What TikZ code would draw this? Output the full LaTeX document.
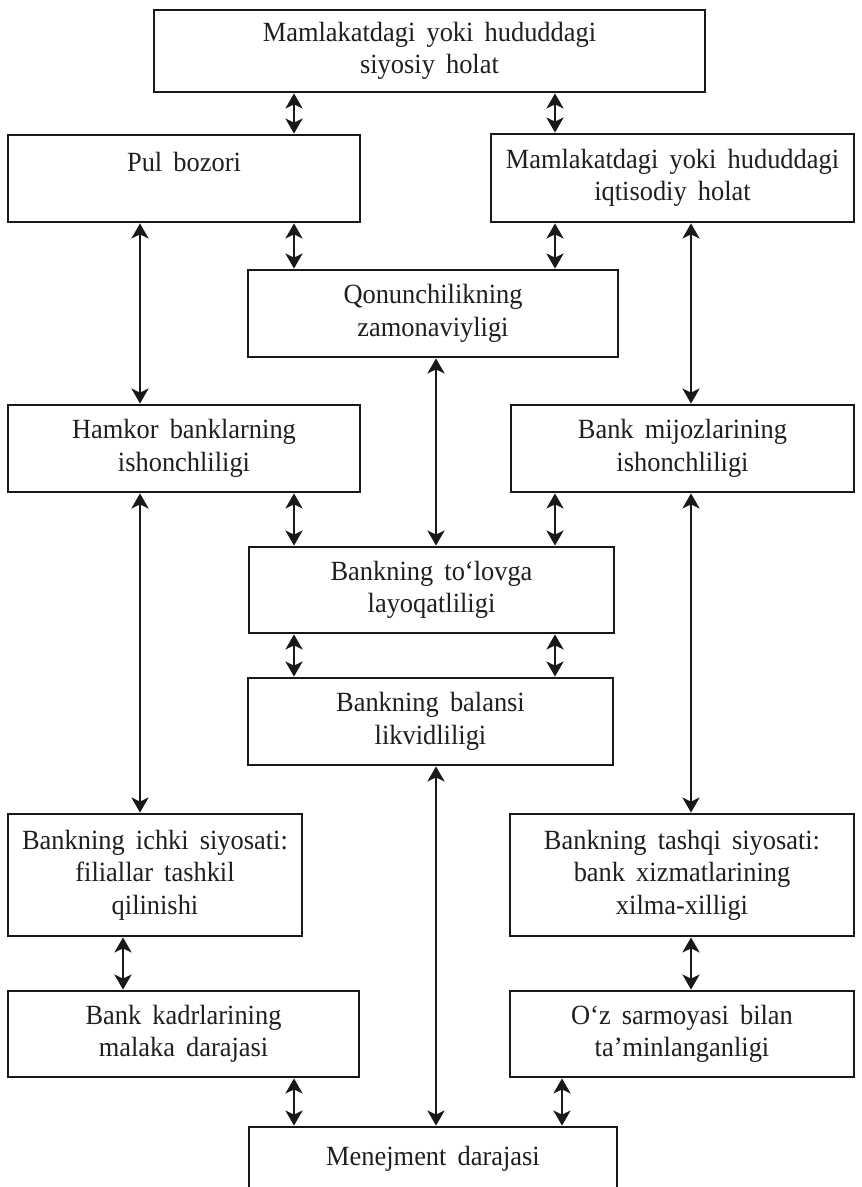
\documentclass[tikz,border=0pt]{standalone}
\usepackage{fontspec}
\setmainfont{Liberation Serif}[FakeStretch=0.95]
\usetikzlibrary{arrows.meta}
\newcommand\boxfont{\fontsize{13.9}{16.2}\selectfont\spaceskip=0.4em plus 0.1em}
\tikzset{
  box/.style={draw=black!90, line width=1.4pt, align=center, inner sep=0pt, font=\boxfont, text=black!88},
  dar/.style={{Stealth[length=7.5pt, width=8.5pt, inset=2pt]}-{Stealth[length=7.5pt, width=8.5pt, inset=2pt]}, draw=black!90, line width=1.3pt},
}

\begin{document}
\begin{tikzpicture}[x=0.5pt,y=-0.5pt]
  \clip (0,0) rectangle (861,1187);
  \fill[white] (0,0) rectangle (861,1187);
  % boxes
  \node[box, minimum width=275.5pt, minimum height=41pt] (top) at (429.5,51) {Mamlakatdagi yoki hududdagi\\siyosiy holat};
  \node[box, minimum width=176pt, minimum height=43.5pt] (pul) at (184,178.5) {Pul bozori\\\mbox{}};
  \node[box, minimum width=181.5pt, minimum height=44pt] (econ) at (672.5,178) {Mamlakatdagi yoki hududdagi\\iqtisodiy holat};
  \node[box, minimum width=185pt, minimum height=43.5pt] (qonun) at (433,313.5) {Qonunchilikning\\zamonaviyligi};
  \node[box, minimum width=176pt, minimum height=43.5pt] (hamkor) at (184,448.5) {Hamkor banklarning\\ishonchliligi};
  \node[box, minimum width=171.5pt, minimum height=43.5pt] (mijoz) at (682.5,448.5) {Bank mijozlarining\\ishonchliligi};
  \node[box, minimum width=182.5pt, minimum height=43pt] (tolov) at (431.5,590) {Bankning to‘lovga\\layoqatliligi};
  \node[box, minimum width=182.5pt, minimum height=43.5pt] (balans) at (430.5,721.5) {Bankning balansi\\likvidliligi};
  \node[box, minimum width=147pt, minimum height=61pt] (ichki) at (155,875) {Bankning ichki siyosati:\\filiallar tashkil\\qilinishi};
  \node[box, minimum width=172pt, minimum height=61pt] (tashqi) at (682,875) {Bankning tashqi siyosati:\\bank xizmatlarining\\xilma-xilligi};
  \node[box, minimum width=175.5pt, minimum height=43pt] (kadr) at (183.5,1034) {Bank kadrlarining\\malaka darajasi};
  \node[box, minimum width=172pt, minimum height=43pt] (sarmoya) at (682,1034) {O‘z sarmoyasi bilan\\ta’minlanganligi};
  \node[box, minimum width=184pt, minimum height=32pt] (menej) at (433,1159) {Menejment darajasi};
  % arrow columns
  \coordinate (c0) at (123,0);
  \coordinate (c1) at (140,0);
  \coordinate (c2) at (294,0);
  \coordinate (c3) at (436,0);
  \coordinate (c4) at (555,0);
  \coordinate (c5) at (562,0);
  \coordinate (c6) at (691,0);
  % connectors
  \draw[dar] (top.south -| c2) -- (pul.north -| c2);
  \draw[dar] (top.south -| c4) -- (econ.north -| c4);
  \draw[dar] (pul.south -| c2) -- (qonun.north -| c2);
  \draw[dar] (econ.south -| c4) -- (qonun.north -| c4);
  \draw[dar] (pul.south -| c1) -- (hamkor.north -| c1);
  \draw[dar] (econ.south -| c6) -- (mijoz.north -| c6);
  \draw[dar] (qonun.south -| c3) -- (tolov.north -| c3);
  \draw[dar] (hamkor.south -| c2) -- (tolov.north -| c2);
  \draw[dar] (mijoz.south -| c4) -- (tolov.north -| c4);
  \draw[dar] (tolov.south -| c2) -- (balans.north -| c2);
  \draw[dar] (tolov.south -| c4) -- (balans.north -| c4);
  \draw[dar] (hamkor.south -| c1) -- (ichki.north -| c1);
  \draw[dar] (mijoz.south -| c6) -- (tashqi.north -| c6);
  \draw[dar] (balans.south -| c3) -- (menej.north -| c3);
  \draw[dar] (ichki.south -| c0) -- (kadr.north -| c0);
  \draw[dar] (tashqi.south -| c6) -- (sarmoya.north -| c6);
  \draw[dar] (kadr.south -| c2) -- (menej.north -| c2);
  \draw[dar] (sarmoya.south -| c5) -- (menej.north -| c5);
\end{tikzpicture}
\end{document}
